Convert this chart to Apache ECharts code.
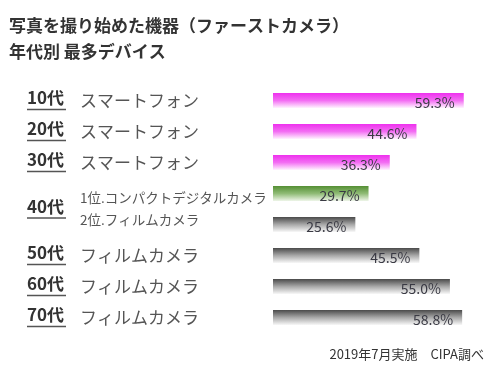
<!DOCTYPE html>
<html>
<head>
<meta charset="utf-8">
<script src="https://cdn.jsdelivr.net/npm/echarts@6/dist/echarts.min.js"></script>
<style>
  html, body { margin: 0; padding: 0; background: #fff; }
  #chart { width: 500px; height: 375px; }
</style>
</head>
<body>
<div id="chart"></div>
<script>
// one row per bar, top to bottom
const ages = ['10代', '20代', '30代', '40代', '40代', '50代', '60代', '70代']
const devices = ['スマートフォン', 'スマートフォン', 'スマートフォン', '1位.コンパクトデジタルカメラ', '2位.フィルムカメラ', 'フィルムカメラ', 'フィルムカメラ', 'フィルムカメラ']
const kinds = ['phone', 'phone', 'phone', 'compact', 'film', 'film', 'film', 'film']
const values = [59.3, 44.6, 36.3, 29.7, 25.6, 45.5, 55.0, 58.8]
const rowIds = ages.map((a, i) => a + '-' + i)

const FONT = '"Noto Sans CJK JP", "Noto Sans", sans-serif'

const grad = (top, mid, bottom) => new echarts.graphic.LinearGradient(0, 0, 0, 1, [
  { offset: 0, color: top },
  { offset: 0.5, color: mid },
  { offset: 1, color: bottom }
])

const fills = {
  phone: grad('#ee30ee', '#f36ef3', '#fff4ff'),
  compact: grad('#558f34', '#8fbb75', '#eef5e8'),
  film: grad('#4a4a4a', '#a8a8a8', '#f8f8f8')
}

const chart = echarts.init(document.getElementById('chart'))

chart.setOption({
  animation: false,
  textStyle: { fontFamily: FONT },
  title: {
    text: '写真を撮り始めた機器（ファーストカメラ）\n年代別 最多デバイス',
    left: 4,
    top: 8,
    textStyle: { fontSize: 17, fontWeight: 'bold', color: '#333', lineHeight: 26, fontFamily: FONT }
  },
  grid: { left: 273, top: 85, width: 193, height: 248 },
  xAxis: { type: 'value', min: 0, max: 60, show: false },
  yAxis: {
    type: 'category',
    inverse: true,
    data: rowIds,
    axisLine: { show: false },
    axisTick: { show: false },
    axisLabel: {
      align: 'left',
      margin: 193,
      formatter: (v, i) => {
        if (i === 3) return '{sub1|' + devices[i] + '}'
        if (i === 4) return '{sub2|' + devices[i] + '}'
        return '{dev|' + devices[i] + '}'
      },
      rich: {
        dev: { fontSize: 17, color: '#555', fontFamily: FONT },
        sub1: { fontSize: 13.5, color: '#555', fontFamily: FONT, padding: [9, 0, 0, 0] },
        sub2: { fontSize: 13.5, color: '#555', fontFamily: FONT, padding: [0, 0, 10, 0] }
      }
    }
  },
  series: [{
    type: 'bar',
    barWidth: 15,
    data: values.map((v, i) => ({ value: v, itemStyle: { color: fills[kinds[i]] } })),
    label: {
      show: true,
      position: 'insideRight',
      distance: 9,
      offset: [0, 2],
      formatter: p => p.value.toFixed(1) + '%',
      fontSize: 14,
      color: '#3a3a44',
      fontFamily: FONT
    }
  }]
})

// age labels with underline, centred on their rows
const ageGraphics = []
const seen = []
ages.forEach(a => { if (!seen.includes(a)) seen.push(a) })
seen.forEach(a => {
  const ys = []
  ages.forEach((x, i) => { if (x === a) ys.push(chart.convertToPixel({ yAxisIndex: 0 }, rowIds[i])) })
  const y = ys.reduce((s, v) => s + v, 0) / ys.length
  ageGraphics.push({
    type: 'text', left: 27, top: y - 11,
    style: { text: a, font: 'bold 17px ' + FONT, fill: '#333' }
  })
  ageGraphics.push({
    type: 'line',
    shape: { x1: 27, y1: y + 9, x2: 66, y2: y + 9 },
    style: { stroke: '#555', lineWidth: 1.5 }
  })
})
ageGraphics.push({
  type: 'text', right: 16, top: 348,
  style: { text: '2019年7月実施　CIPA調べ', font: '13px ' + FONT, fill: '#333' }
})
chart.setOption({ graphic: ageGraphics })
</script>
</body>
</html>
